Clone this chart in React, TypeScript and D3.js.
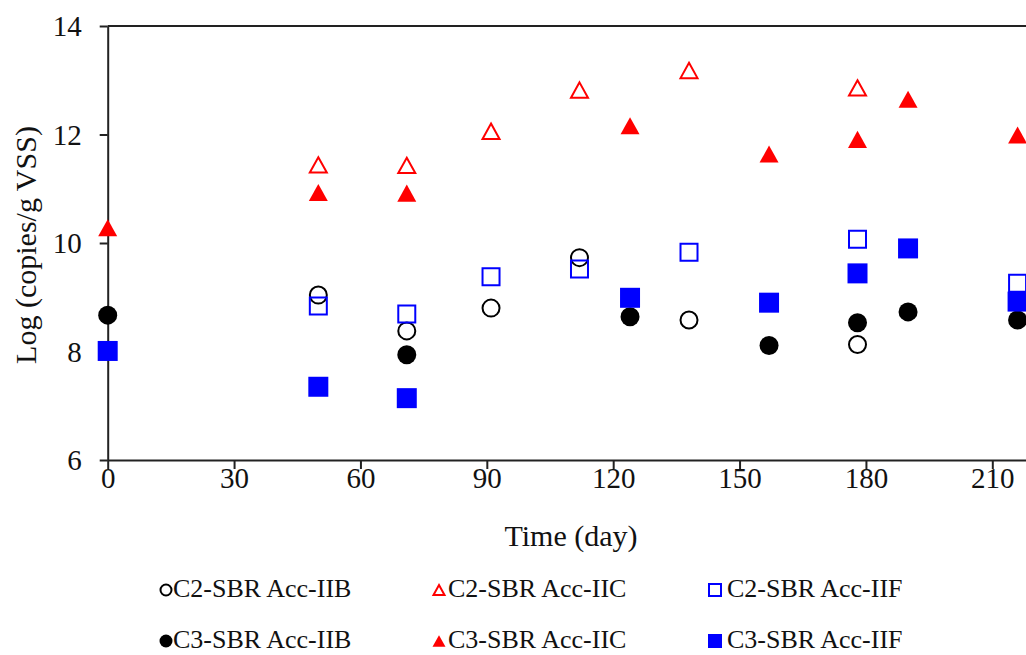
import React, { useEffect, useRef } from "react";
import * as d3 from "d3";

// ---- data ----
const xTicks = [0, 30, 60, 90, 120, 150, 180, 210];
const yTicks = [6, 8, 10, 12, 14];

const c2IIBDays = [50, 71, 91, 112, 138, 178];
const c2IIBVals = [9.04, 8.38, 8.8, 9.73, 8.58, 8.13];

const c2IICDays = [50, 71, 91, 112, 138, 178];
const c2IICVals = [11.44, 11.43, 12.06, 12.82, 13.18, 12.86];

const c2IIFDays = [50, 71, 91, 112, 138, 178, 216];
const c2IIFVals = [8.84, 8.69, 9.38, 9.52, 9.83, 10.07, 9.26];

const c3IIBDays = [0, 71, 124, 157, 178, 190, 216];
const c3IIBVals = [8.67, 7.94, 8.64, 8.11, 8.53, 8.73, 8.58];

const c3IICDays = [0, 50, 71, 124, 157, 178, 190, 216];
const c3IICVals = [10.28, 10.93, 10.92, 12.16, 11.64, 11.91, 12.65, 11.99];

const c3IIFDays = [0, 50, 71, 124, 157, 178, 190, 216];
const c3IIFVals = [8.01, 7.35, 7.14, 8.99, 8.9, 9.44, 9.9, 8.92];

type Shape = "circle" | "triangle" | "square";
interface Series {
  name: string;
  days: number[];
  vals: number[];
  shape: Shape;
  color: string;
  filled: boolean;
}

const series: Series[] = [
  { name: "C2-SBR Acc-IIB", days: c2IIBDays, vals: c2IIBVals, shape: "circle", color: "#000000", filled: false },
  { name: "C2-SBR Acc-IIC", days: c2IICDays, vals: c2IICVals, shape: "triangle", color: "#ff0000", filled: false },
  { name: "C2-SBR Acc-IIF", days: c2IIFDays, vals: c2IIFVals, shape: "square", color: "#0000ff", filled: false },
  { name: "C3-SBR Acc-IIB", days: c3IIBDays, vals: c3IIBVals, shape: "circle", color: "#000000", filled: true },
  { name: "C3-SBR Acc-IIC", days: c3IICDays, vals: c3IICVals, shape: "triangle", color: "#ff0000", filled: true },
  { name: "C3-SBR Acc-IIF", days: c3IIFDays, vals: c3IIFVals, shape: "square", color: "#0000ff", filled: true },
];

const FONT = "'Liberation Serif', 'Times New Roman', serif";

function markerPath(shape: Shape, size: number, filled: boolean): string {
  const p = d3.path();
  if (shape === "circle") {
    const r = filled ? size / 2 : size / 2 - 1;
    p.arc(0, 0, r, 0, Math.PI * 2);
  } else if (shape === "square") {
    const s = filled ? size : size - 2;
    p.rect(-s / 2, -s / 2, s, s);
  } else {
    const w = filled ? size : size - 2;
    const h = w * 0.9;
    p.moveTo(0, -h / 2);
    p.lineTo(w / 2, h / 2);
    p.lineTo(-w / 2, h / 2);
    p.closePath();
  }
  return p.toString();
}

export default function App() {
  const ref = useRef<SVGSVGElement>(null);

  useEffect(() => {
    const svg = d3.select(ref.current);
    svg.selectAll("*").remove();

    const W = 1026;
    const H = 655;
    const left = 107.7;
    const top = 26;
    const bottom = 460;
    const pxPerDay = 4.2124;

    const x = d3.scaleLinear().domain([0, 240]).range([left, left + 240 * pxPerDay]);
    const y = d3.scaleLinear().domain([6, 14]).range([bottom, top]);

    svg.attr("width", W).attr("height", H);

    // frame top line
    svg
      .append("line")
      .attr("x1", x(0))
      .attr("x2", x(240))
      .attr("y1", y(14))
      .attr("y2", y(14))
      .attr("stroke", "#222")
      .attr("stroke-width", 2);

    // x axis
    const gx = svg
      .append("g")
      .attr("transform", `translate(0,${bottom})`)
      .call(d3.axisBottom(x).tickValues(xTicks).tickSize(9).tickSizeOuter(0).tickFormat(d3.format("d")));
    gx.select(".domain").attr("stroke", "#222").attr("stroke-width", 2);
    gx.selectAll(".tick line").attr("stroke", "#222").attr("stroke-width", 2);
    gx.selectAll(".tick text")
      .attr("y", 28)
      .attr("dy", 0)
      .attr("font-size", 29)
      .attr("font-family", FONT)
      .attr("fill", "#111");

    // y axis
    const gy = svg
      .append("g")
      .attr("transform", `translate(${left},0)`)
      .call(d3.axisLeft(y).tickValues(yTicks).tickSize(8).tickSizeOuter(0).tickPadding(18).tickFormat(d3.format("d")));
    gy.select(".domain").attr("stroke", "#222").attr("stroke-width", 2);
    gy.selectAll(".tick line").attr("stroke", "#222").attr("stroke-width", 2);
    gy.selectAll(".tick text")
      .attr("dy", "0.34em")
      .attr("font-size", 29)
      .attr("font-family", FONT)
      .attr("fill", "#111");

    // axis titles
    svg
      .append("text")
      .attr("x", 571)
      .attr("y", 546)
      .attr("text-anchor", "middle")
      .attr("font-size", 30)
      .attr("font-family", FONT)
      .attr("fill", "#111")
      .text("Time (day)");

    svg
      .append("text")
      .attr("transform", "translate(36,245) rotate(-90)")
      .attr("text-anchor", "middle")
      .attr("font-size", 30)
      .attr("font-family", FONT)
      .attr("fill", "#111")
      .text("Log (copies/g VSS)");

    // markers
    const plotSize = 19;
    series.forEach((s) => {
      const pts = s.days.map((d, i) => [d, s.vals[i]] as [number, number]);
      svg
        .append("g")
        .selectAll("path")
        .data(pts)
        .join("path")
        .attr("transform", (d) => `translate(${x(d[0])},${y(d[1])})`)
        .attr("d", markerPath(s.shape, s.shape === "square" && s.filled ? 20 : plotSize, s.filled))
        .attr("fill", s.filled ? s.color : "none")
        .attr("stroke", s.filled ? "none" : s.color)
        .attr("stroke-width", 2);
    });

    // legend
    const legCols = [
      { mx: 166, tx: 173 },
      { mx: 439, tx: 448 },
      { mx: 715, tx: 727 },
    ];
    const legRows = [597, 648];
    series.forEach((s, i) => {
      const col = legCols[i % 3];
      const base = legRows[Math.floor(i / 3)];
      const g = svg.append("g");
      g.append("path")
        .attr("transform", `translate(${col.mx},${base - 7})`)
        .attr("d", markerPath(s.shape, s.shape === "square" ? 14 : 13, s.filled))
        .attr("fill", s.filled ? s.color : "none")
        .attr("stroke", s.filled ? "none" : s.color)
        .attr("stroke-width", 2);
      g.append("text")
        .attr("x", col.tx)
        .attr("y", base)
        .attr("font-size", 26)
        .attr("font-family", FONT)
        .attr("fill", "#111")
        .text(s.name);
    });
  }, []);

  return (
    <svg
      ref={ref}
      style={{ position: "absolute", left: 0, top: 0, background: "#fff" }}
      width={1026}
      height={655}
    />
  );
}
